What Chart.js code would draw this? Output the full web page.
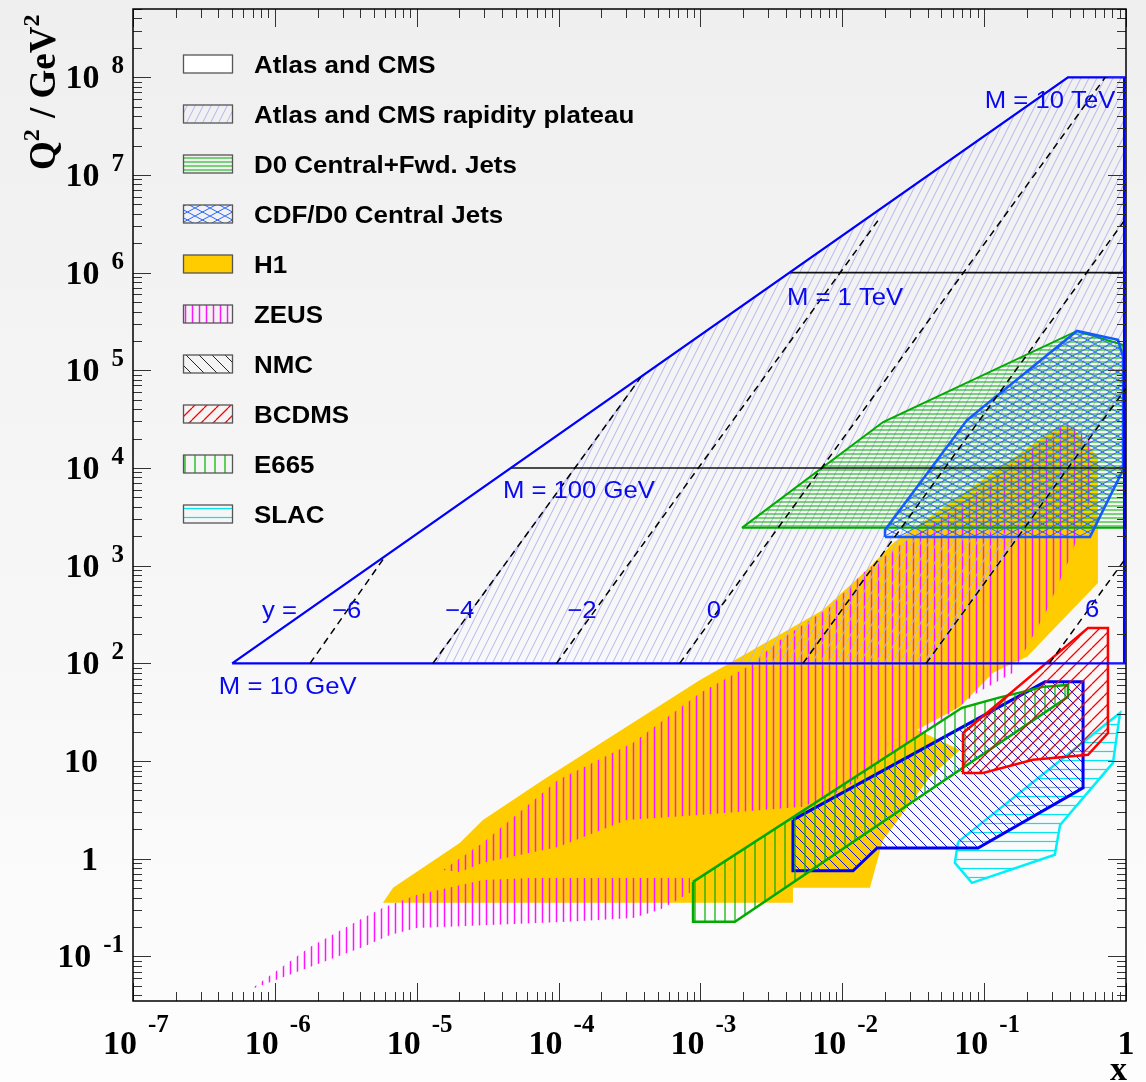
<!DOCTYPE html>
<html>
<head>
<meta charset="utf-8">
<script src="https://cdn.jsdelivr.net/npm/chart.js@4.4.1/dist/chart.umd.min.js"></script>
<style>
  html, body { margin: 0; padding: 0; background: #fff; }
  canvas { display: block; }
</style>
</head>
<body>
<canvas id="kin" width="1146" height="1082"></canvas>
<script>
// axis limits
const xRange = [1e-7, 1];
const q2Range = [0.035, 5e8];
const xTickExp = [-7, -6, -5, -4, -3, -2, -1, 0];
const yTickExp = [-1, 0, 1, 2, 3, 4, 5, 6, 7, 8];

// regions, [x, Q2]
const lhcEdge = [[5.0e-7, 100], [0.39, 1e8], [0.97, 1e8], [0.97, 100]];
const plateauEdge = [[1.30e-5, 100], [3.8e-4, 8.5e4], [0.39, 1e8], [0.97, 1e8], [0.97, 6.56e4], [0.039, 100]];
const d0Edge = [[1.96e-3, 2440], [0.0194, 2.96e4], [0.451, 2.53e5], [0.96, 1.82e5], [1, 2440]];
const cdfEdge = [[0.0200, 1972], [0.557, 1972], [0.953, 9570], [0.953, 1.37e5], [0.879, 2.05e5],
                 [0.451, 2.53e5], [0.0757, 3.1e4], [0.0200, 2320]];
const h1Edge = [[5.78e-6, 0.354], [6.81e-6, 0.504], [2.02e-5, 1.455], [2.93e-5, 2.50], [7.76e-5, 6.42],
                [9.93e-4, 67.8], [1.61e-3, 101], [7.31e-3, 353], [0.0149, 906], [0.0228, 1710],
                [0.343, 2.76e4], [0.423, 2.57e4], [0.634, 1.30e4], [0.634, 667], [0.2005, 117],
                [0.1153, 80], [0.0676, 35.9], [0.0337, 20.9], [0.0676, 13.0], [0.0415, 6.89],
                [0.01936, 1.56], [0.01567, 0.504], [4.49e-3, 0.504], [4.49e-3, 0.354]];
const zeusHigh = [[1.53e-5, 0.769], [2.93e-5, 1.455], [9.91e-5, 6.42], [3.35e-4, 15.4], [9.93e-4, 49.9],
                  [2.13e-3, 92], [3.64e-3, 174], [8.18e-3, 379], [0.0140, 843], [0.0243, 1556],
                  [0.0710, 4390], [0.1596, 1.13e4], [0.384, 2.9e4], [0.557, 1.94e4], [0.557, 4710],
                  [0.416, 1352], [0.277, 353], [0.1596, 80], [0.0891, 49.9], [0.0466, 24.6],
                  [0.0228, 12.1], [0.0101, 5.07], [5.28e-3, 3.40], [9.93e-4, 2.81], [3.03e-4, 2.50],
                  [9.91e-5, 1.32], [2.93e-5, 0.908], [2.02e-5, 0.734]];
const zeusLow = [[6.68e-7, 0.0455], [1.77e-6, 0.125], [4.18e-6, 0.248], [5.78e-6, 0.315], [1.0e-5, 0.427],
                 [2.93e-5, 0.608], [6.61e-5, 0.637], [8.43e-4, 0.637], [8.43e-4, 0.448], [5.19e-4, 0.30],
                 [3.35e-4, 0.248], [1.15e-4, 0.226], [3.29e-5, 0.21], [1.0e-5, 0.196], [6.49e-6, 0.166],
                 [4.18e-6, 0.125], [1.77e-6, 0.078]];
const nmcEdge = [[4.49e-3, 2.50], [0.2685, 64.7], [0.498, 64.7], [0.498, 5.32], [0.0906, 1.29],
                 [0.0176, 1.29], [0.0119, 0.752], [4.49e-3, 0.752]];
const e665Edge = [[8.87e-4, 0.58], [0.0698, 35.1], [0.1253, 44.4], [0.260, 57.5], [0.39, 60.2],
                  [0.39, 45.4], [1.75e-3, 0.226], [8.87e-4, 0.226]];
const bcdmsEdge = [[0.071, 19.4], [0.54, 231], [0.746, 231], [0.746, 19.4], [0.54, 11.6],
                   [0.221, 10.3], [0.0982, 7.57], [0.071, 7.57]];
const slacEdge = [[0.0655, 1.49], [0.711, 23.5], [0.908, 31.1], [0.809, 9.58], [0.343, 2.22],
                  [0.315, 1.10], [0.082, 0.567], [0.0622, 0.908]];

// lines of constant mass and rapidity
const massLines = [[[4.62e-5, 1e4], [1, 1e4]], [[4.27e-3, 1e6], [1, 1e6]]];
const rapidity = [-6, -4, -2, 0, 2, 4, 6];
const rapStart = [[1.77e-6, 100], [1.30e-5, 100], [9.67e-5, 100], [7.14e-4, 100], [5.28e-3, 100], [0.039, 100], [0.288, 100]];
const rapEnd = [[6.0e-6, 1250], [3.8e-4, 8.5e4], [0.0183, 3.59e6], [0.714, 1e8], [1, 3.59e6], [1, 6.56e4], [1, 1204]];

// text on the plot, [text, x, Q2] at left baseline
const plotLabels = [
  ['M = 10 TeV', 0.101, 4.85e7],
  ['M = 1 TeV', 4.07e-3, 4.67e5],
  ['M = 100 GeV', 4.05e-5, 4.94e3],
  ['M = 10 GeV', 4.03e-7, 48.7],
  ['y =', 8.11e-7, 292],
  ['\u22126', 2.53e-6, 292],
  ['\u22124', 1.58e-5, 292],
  ['\u22122', 1.15e-4, 292],
  ['0', 1.11e-3, 292],
  ['6', 0.514, 296]
];

const canvas = document.getElementById('kin');
const ctx = canvas.getContext('2d');

function hatch(kind, color, w, h, lw) {
  const c = document.createElement('canvas');
  c.width = w; c.height = h;
  const g = c.getContext('2d');
  g.strokeStyle = color;
  g.lineWidth = lw;
  g.beginPath();
  if (kind === 'h') { g.moveTo(0, h / 2); g.lineTo(w, h / 2); }
  else if (kind === 'v') { g.moveTo(w / 2, 0); g.lineTo(w / 2, h); }
  else {
    for (let k = -1; k <= 1; k++) {
      if (kind !== 'b') { g.moveTo(k * w, h); g.lineTo(k * w + w, 0); }
      if (kind !== 'f') { g.moveTo(k * w, 0); g.lineTo(k * w + w, h); }
    }
  }
  g.stroke();
  return ctx.createPattern(c, 'repeat');
}

const pat = {
  plateau: hatch('f', 'rgb(180,180,240)', 8, 16, 1),
  d0: hatch('h', 'rgb(20,180,20)', 4, 4, 1.1),
  cdf: hatch('x', 'rgb(40,100,255)', 15, 8, 1),
  zeus: hatch('v', 'rgb(255,20,255)', 7, 7, 1.5),
  nmc: hatch('b', 'rgb(20,20,220)', 10, 10, 1),
  nmcKey: hatch('b', '#222', 13, 13, 1),
  bcdms: hatch('f', 'rgb(255,0,0)', 12, 12, 1.3),
  e665: hatch('v', 'rgb(0,175,0)', 10, 10, 1.2),
  slac: hatch('h', 'rgb(0,230,240)', 9, 9, 1.2)
};

function region(label, pts, style, z, close) {
  const data = pts.map(p => ({ x: p[0], y: p[1] }));
  if (close) data.push({ x: pts[0][0], y: pts[0][1] });
  return Object.assign({
    label, data, showLine: true, pointRadius: 0, borderJoinStyle: 'miter',
    fill: false, borderWidth: 0, borderColor: 'transparent', order: 100 - z
  }, style);
}

const datasets = [
  region('H1', h1Edge, { fill: 'shape', backgroundColor: '#ffcc00' }, 1, true),
  region('ZEUS', zeusHigh, { fill: 'shape', backgroundColor: pat.zeus }, 2, true),
  region('ZEUS low', zeusLow, { fill: 'shape', backgroundColor: pat.zeus }, 2, true),
  region('Atlas and CMS rapidity plateau', plateauEdge,
         { fill: 'shape', backgroundColor: pat.plateau, borderColor: 'rgb(190,190,245)', borderWidth: 1.5 }, 3, true),
  region('D0 Central+Fwd. Jets', d0Edge,
         { fill: 'shape', backgroundColor: pat.d0, borderColor: 'rgb(0,170,0)', borderWidth: 2 }, 4, true),
  region('CDF/D0 Central Jets', cdfEdge,
         { fill: 'shape', backgroundColor: pat.cdf, borderColor: 'rgb(20,90,255)', borderWidth: 2.5 }, 5, true),
  region('SLAC', slacEdge,
         { fill: 'shape', backgroundColor: pat.slac, borderColor: 'rgb(0,240,250)', borderWidth: 2.5 }, 6, true),
  region('NMC', nmcEdge,
         { fill: 'shape', backgroundColor: pat.nmc, borderColor: 'rgb(0,0,245)', borderWidth: 3 }, 7, true),
  region('E665', e665Edge,
         { fill: 'shape', backgroundColor: pat.e665, borderColor: 'rgb(0,170,0)', borderWidth: 2.5 }, 8, true),
  region('BCDMS', bcdmsEdge,
         { fill: 'shape', backgroundColor: pat.bcdms, borderColor: 'rgb(255,0,0)', borderWidth: 2.5 }, 9, true)
];
massLines.forEach((m, i) => datasets.push(region('M' + i, m, { borderColor: '#111', borderWidth: 1.6 }, 10, false)));
datasets.push(region('Atlas and CMS', lhcEdge, { borderColor: 'rgb(0,0,255)', borderWidth: 2.3 }, 11, true));
rapidity.forEach((y, i) => datasets.push(region('y=' + y, [rapStart[i], rapEnd[i]],
  { borderColor: '#000', borderWidth: 1.5, borderDash: [7, 5] }, 12, false)));

const legendRows = [
  ['Atlas and CMS', '#ffffff'],
  ['Atlas and CMS rapidity plateau', pat.plateau],
  ['D0 Central+Fwd. Jets', pat.d0],
  ['CDF/D0 Central Jets', pat.cdf],
  ['H1', '#ffcc00'],
  ['ZEUS', pat.zeus],
  ['NMC', pat.nmcKey],
  ['BCDMS', pat.bcdms],
  ['E665', pat.e665],
  ['SLAC', pat.slac]
];

const SERIF = '"Liberation Serif", "DejaVu Serif", serif';
const SANS = '"Liberation Sans", Arial, sans-serif';

function stretchText(c, text, x, y, sx) {
  c.save();
  c.translate(x, y);
  c.scale(sx, 1);
  c.fillText(text, 0, 0);
  c.restore();
}

const decor = {
  id: 'decor',
  beforeDraw(chart) {
    const c = chart.ctx;
    const g = c.createLinearGradient(0, 0, 0, 1001);
    g.addColorStop(0, '#efefef');
    g.addColorStop(1, '#fcfcfc');
    c.save();
    c.fillStyle = '#fdfdfd';
    c.fillRect(0, 0, chart.width, chart.height);
    c.fillStyle = g;
    c.fillRect(0, 0, chart.width, 1001);
    c.restore();
  },
  afterDraw(chart) {
    const c = chart.ctx;
    const a = chart.chartArea;
    const xs = chart.scales.x, ys = chart.scales.y;
    c.save();

    // plot labels
    c.fillStyle = 'rgb(10,10,240)';
    c.font = '24px ' + SANS;
    c.textBaseline = 'alphabetic';
    plotLabels.forEach(([t, x, q]) => {
      stretchText(c, t, xs.getPixelForValue(x), ys.getPixelForValue(q), 1.07);
    });

    // ticks
    c.strokeStyle = '#333';
    c.lineWidth = 1;
    c.beginPath();
    for (let e = -7; e <= 0; e++) {
      for (let m = 1; m <= 9; m++) {
        const v = Number(m + 'e' + e);
        if (v > xRange[1]) break;
        const px = Math.round(xs.getPixelForValue(v)) + 0.5;
        const len = m === 1 ? 18 : 9;
        c.moveTo(px, a.bottom); c.lineTo(px, a.bottom - len);
        c.moveTo(px, a.top); c.lineTo(px, a.top + len);
      }
    }
    for (let e = -2; e <= 8; e++) {
      for (let m = 1; m <= 9; m++) {
        const v = Number(m + 'e' + e);
        if (v < q2Range[0] || v > q2Range[1]) continue;
        const py = Math.round(ys.getPixelForValue(v)) + 0.5;
        const len = m === 1 ? 18 : 9;
        c.moveTo(a.left, py); c.lineTo(a.left + len, py);
        c.moveTo(a.right, py); c.lineTo(a.right - len, py);
      }
    }
    c.stroke();

    // frame
    c.strokeStyle = '#000';
    c.lineWidth = 1.5;
    c.strokeRect(a.left, a.top, a.right - a.left, a.bottom - a.top);

    // tick labels
    c.fillStyle = '#000';
    const big = 'bold 34px ' + SERIF, small = 'bold 25px ' + SERIF;
    xTickExp.forEach(e => {
      const px = xs.getPixelForValue(Number('1e' + e));
      c.font = big;
      if (e === 0) {
        c.textAlign = 'center';
        c.fillText('1', px, a.bottom + 53);
      } else {
        c.textAlign = 'left';
        c.fillText('10', px - 30, a.bottom + 53);
        c.font = small;
        c.fillText(String(e), px + 15, a.bottom + 31);
      }
    });
    yTickExp.forEach(e => {
      const py = ys.getPixelForValue(Number('1e' + e));
      c.textAlign = 'right';
      c.font = big;
      if (e === 0 || e === 1) {
        c.fillText(e === 0 ? '1' : '10', a.left - 35, py + 11);
      } else {
        c.font = small;
        const ew = c.measureText(String(e)).width;
        c.fillText(String(e), a.left - 9, py - 4);
        c.font = big;
        c.fillText('10', a.left - 9 - ew - 12, py + 11);
      }
    });

    // axis titles
    c.textAlign = 'right';
    c.font = 'bold 34px ' + SERIF;
    c.fillText('x', a.right + 1, a.bottom + 79);
    c.save();
    c.translate(55, 170);
    c.rotate(-Math.PI / 2);
    c.textAlign = 'left';
    const tb = 'bold 37px ' + SERIF, ts = 'bold 24px ' + SERIF;
    let off = 0;
    [['Q', tb, 0], ['2', ts, -16], [' / GeV', tb, 0], ['2', ts, -16]]
      .forEach(([t, f, dy]) => {
        c.font = f;
        c.fillText(t, off, dy);
        off += c.measureText(t).width + (dy ? 2 : 0);
      });
    c.restore();

    // legend
    c.textAlign = 'left';
    legendRows.forEach(([t, fill], i) => {
      const cy = a.top + 55 + 50 * i;
      c.fillStyle = fill;
      c.fillRect(a.left + 50.5, cy - 9, 49, 18);
      c.strokeStyle = '#555';
      c.lineWidth = 1.3;
      c.strokeRect(a.left + 50.5, cy - 9, 49, 18);
      c.fillStyle = '#000';
      c.font = 'bold 24px ' + SANS;
      stretchText(c, t, a.left + 121, cy + 8.5, 1.08);
    });
    c.restore();
  }
};

new Chart(ctx, {
  type: 'scatter',
  data: { datasets },
  options: {
    responsive: false,
    animation: false,
    events: [],
    layout: { padding: { left: 133, right: 20, top: 9, bottom: 81 } },
    elements: { point: { radius: 0 }, line: { tension: 0 } },
    plugins: { legend: { display: false }, tooltip: { enabled: false } },
    scales: {
      x: { type: 'logarithmic', min: xRange[0], max: xRange[1], display: false },
      y: { type: 'logarithmic', min: q2Range[0], max: q2Range[1], display: false }
    }
  },
  plugins: [decor]
});
</script>
</body>
</html>
